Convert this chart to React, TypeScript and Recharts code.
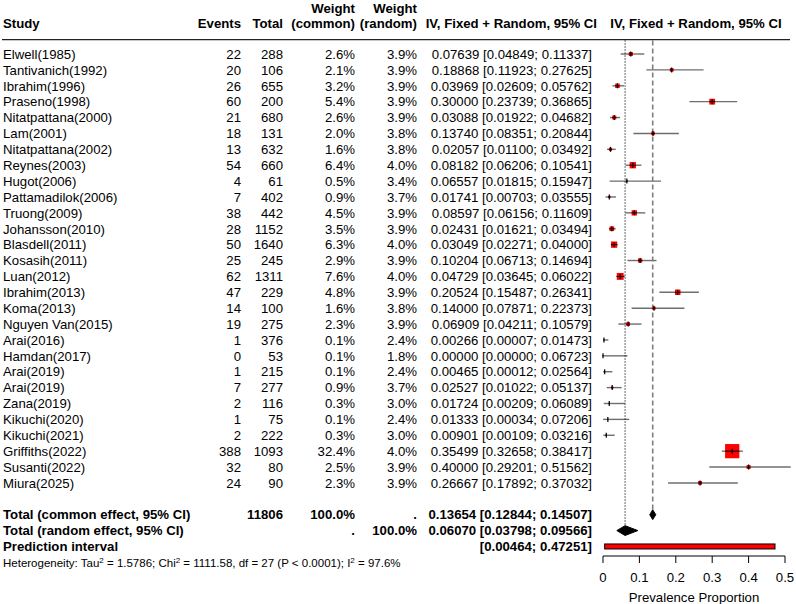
import React from 'react';
import { ScatterChart, Scatter, XAxis, YAxis, ReferenceLine } from 'recharts';

const studies = [
  'Elwell(1985)', 'Tantivanich(1992)', 'Ibrahim(1996)', 'Praseno(1998)', 'Nitatpattana(2000)',
  'Lam(2001)', 'Nitatpattana(2002)', 'Reynes(2003)', 'Hugot(2006)', 'Pattamadilok(2006)',
  'Truong(2009)', 'Johansson(2010)', 'Blasdell(2011)', 'Kosasih(2011)', 'Luan(2012)',
  'Ibrahim(2013)', 'Koma(2013)', 'Nguyen Van(2015)', 'Arai(2016)', 'Hamdan(2017)',
  'Arai(2019)', 'Arai(2019)', 'Zana(2019)', 'Kikuchi(2020)', 'Kikuchi(2021)',
  'Griffiths(2022)', 'Susanti(2022)', 'Miura(2025)',
];
const events = [22, 20, 26, 60, 21, 18, 13, 54, 4, 7, 38, 28, 50, 25, 62, 47, 14, 19, 1, 0, 1, 7, 2, 1, 2, 388, 32, 24];
const totals = [288, 106, 655, 200, 680, 131, 632, 660, 61, 402, 442, 1152, 1640, 245, 1311, 229, 100, 275, 376, 53, 215, 277, 116, 75, 222, 1093, 80, 90];
const weightCommon = [2.6, 2.1, 3.2, 5.4, 2.6, 2.0, 1.6, 6.4, 0.5, 0.9, 4.5, 3.5, 6.3, 2.9, 7.6, 4.8, 1.6, 2.3, 0.1, 0.1, 0.1, 0.9, 0.3, 0.1, 0.3, 32.4, 2.5, 2.3];
const weightRandom = [3.9, 3.9, 3.9, 3.9, 3.9, 3.8, 3.8, 4.0, 3.4, 3.7, 3.9, 3.9, 4.0, 3.9, 4.0, 3.9, 3.8, 3.9, 2.4, 1.8, 2.4, 3.7, 3.0, 2.4, 3.0, 4.0, 3.9, 3.9];
const estimates = [0.07639, 0.18868, 0.03969, 0.3, 0.03088, 0.1374, 0.02057, 0.08182, 0.06557, 0.01741, 0.08597, 0.02431, 0.03049, 0.10204, 0.04729, 0.20524, 0.14, 0.06909, 0.00266, 0, 0.00465, 0.02527, 0.01724, 0.01333, 0.00901, 0.35499, 0.4, 0.26667];
const lowerCI = [0.04849, 0.11923, 0.02609, 0.23739, 0.01922, 0.08351, 0.011, 0.06206, 0.01815, 0.00703, 0.06156, 0.01621, 0.02271, 0.06713, 0.03645, 0.15487, 0.07871, 0.04211, 0.00007, 0, 0.00012, 0.01022, 0.00209, 0.00034, 0.00109, 0.32658, 0.29201, 0.17892];
const upperCI = [0.11337, 0.27625, 0.05762, 0.36865, 0.04682, 0.20844, 0.03492, 0.10541, 0.15947, 0.03555, 0.11609, 0.03494, 0.04, 0.14694, 0.06022, 0.26341, 0.22373, 0.10579, 0.01473, 0.06723, 0.02564, 0.05137, 0.06089, 0.07206, 0.03216, 0.38417, 0.51562, 0.37032];

const commonEst = 0.13654;
const commonCI = [0.12844, 0.14507];
const randomEst = 0.0607;
const randomCI = [0.03798, 0.09566];
const predictionCI = [0.00464, 0.47251];
const xTicks = [0, 0.1, 0.2, 0.3, 0.4, 0.5];

const FONT = '"Liberation Sans", Arial, Helvetica, sans-serif';
const FS = 13.2;
// right edges of the text columns (px)
const COL = { study: 3, events: 241, total: 283, wCommon: 355, wRandom: 417, ci: 592, plotMid: 696 };
// row positions (row units) of the non-study lines
const ROW_HEAD1 = -2.9;
const ROW_HEAD2 = -1.95;
const ROW_RULE = -0.91;
const ROW_COMMON = 29;
const ROW_RANDOM = 30;
const ROW_PRED = 31;
const DIAMOND_H = 0.31;

const fmt = (v: number) => v.toFixed(5);
const ciText = (e: number, lo: number, up: number) => `${fmt(e)} [${fmt(lo)}; ${fmt(up)}]`;

const studyData = studies.map((name, i) => ({
  x: estimates[i],
  y: i,
  name,
  ev: events[i],
  n: totals[i],
  wc: weightCommon[i],
  wr: weightRandom[i],
  lo: lowerCI[i],
  up: upperCI[i],
}));

const labelData = [
  { x: 0, y: ROW_HEAD1, kind: 'head1' },
  { x: 0, y: ROW_HEAD2, kind: 'head2' },
  { x: 0, y: ROW_RULE, kind: 'rule' },
  { x: 0, y: ROW_COMMON, kind: 'common' },
  { x: 0, y: ROW_RANDOM, kind: 'random' },
  { x: 0, y: ROW_PRED, kind: 'pred' },
];

const diamond = (est: number, ci: number[], row: number) => [
  { x: ci[0], y: row },
  { x: est, y: row - DIAMOND_H },
  { x: ci[1], y: row },
  { x: est, y: row + DIAMOND_H },
];
const commonDiamond = diamond(commonEst, commonCI, ROW_COMMON);
const randomDiamond = diamond(randomEst, randomCI, ROW_RANDOM);
const predData = [
  { x: predictionCI[0], y: ROW_PRED },
  { x: predictionCI[1], y: ROW_PRED },
];

function T({ x, y, anchor = 'end', bold = false, size = FS, children }: any) {
  return (
    <text x={x} y={y} dy="0.36em" textAnchor={anchor} fontFamily={FONT} fontSize={size}
      fontWeight={bold ? 700 : 400} fill="#000">
      {children}
    </text>
  );
}

function StudyRow(props: any) {
  const { cx, cy, payload } = props;
  const side = 2.5 * Math.sqrt(payload.wc);
  return (
    <g>
      <T x={COL.study} y={cy} anchor="start">{payload.name}</T>
      <T x={COL.events} y={cy}>{payload.ev}</T>
      <T x={COL.total} y={cy}>{payload.n}</T>
      <T x={COL.wCommon} y={cy}>{payload.wc.toFixed(1)}%</T>
      <T x={COL.wRandom} y={cy}>{payload.wr.toFixed(1)}%</T>
      <T x={COL.ci} y={cy}>{ciText(payload.x, payload.lo, payload.up)}</T>
      <rect x={cx - side / 2} y={cy - side / 2} width={side} height={side} fill="#ff0000" />
      <line x1={cx - side / 2} x2={cx + side / 2} y1={cy} y2={cy} stroke="#000" strokeWidth={1} />
      <line x1={cx} x2={cx} y1={cy - 2.5} y2={cy + 2.5} stroke="#000" strokeWidth={1.2} />
    </g>
  );
}

function LabelRow(props: any) {
  const { cy, payload } = props;
  const n = totals.reduce((s, v) => s + v, 0);
  switch (payload.kind) {
    case 'head1':
      return (
        <g>
          <T x={COL.wCommon} y={cy} bold>Weight</T>
          <T x={COL.wRandom} y={cy} bold>Weight</T>
        </g>
      );
    case 'head2':
      return (
        <g>
          <T x={COL.study} y={cy} anchor="start" bold>Study</T>
          <T x={COL.events} y={cy} bold>Events</T>
          <T x={COL.total} y={cy} bold>Total</T>
          <T x={COL.wCommon} y={cy} bold>(common)</T>
          <T x={COL.wRandom} y={cy} bold>(random)</T>
          <T x={597} y={cy} bold>IV, Fixed + Random, 95% CI</T>
          <T x={COL.plotMid} y={cy} anchor="middle" bold>IV, Fixed + Random, 95% CI</T>
        </g>
      );
    case 'rule':
      return <line x1={2} x2={790} y1={cy} y2={cy} stroke="#222" strokeWidth={1.3} />;
    case 'common':
      return (
        <g>
          <T x={COL.study} y={cy} anchor="start" bold>Total (common effect, 95% CI)</T>
          <T x={COL.total} y={cy} bold>{n}</T>
          <T x={COL.wCommon} y={cy} bold>100.0%</T>
          <T x={COL.wRandom} y={cy} bold>.</T>
          <T x={COL.ci} y={cy} bold>{ciText(commonEst, commonCI[0], commonCI[1])}</T>
        </g>
      );
    case 'random':
      return (
        <g>
          <T x={COL.study} y={cy} anchor="start" bold>Total (random effect, 95% CI)</T>
          <T x={COL.wCommon} y={cy} bold>.</T>
          <T x={COL.wRandom} y={cy} bold>100.0%</T>
          <T x={COL.ci} y={cy} bold>{ciText(randomEst, randomCI[0], randomCI[1])}</T>
        </g>
      );
    case 'pred':
      return (
        <g>
          <T x={COL.study} y={cy} anchor="start" bold>Prediction interval</T>
          <T x={COL.ci} y={cy} bold>[{fmt(predictionCI[0])}; {fmt(predictionCI[1])}]</T>
          <text x={3} y={cy + 16.5} dy="0.36em" fontFamily={FONT} fontSize={11.5} fill="#000">
            Heterogeneity: Tau<tspan dy="-4" fontSize={8}>2</tspan>
            <tspan dy="4"> = 1.5786; Chi</tspan><tspan dy="-4" fontSize={8}>2</tspan>
            <tspan dy="4"> = 1111.58, df = 27 (P &lt; 0.0001); I</tspan><tspan dy="-4" fontSize={8}>2</tspan>
            <tspan dy="4"> = 97.6%</tspan>
          </text>
        </g>
      );
    default:
      return <g />;
  }
}

const diamondLine = (p: any) => {
  const d = p.points.map((q: any, i: number) => `${i ? 'L' : 'M'}${q.x},${q.y}`).join('') + 'Z';
  return <path d={d} fill="#000" stroke="#000" strokeWidth={1} />;
};

const predLine = (p: any) => {
  const [a, b] = p.points;
  return <rect x={a.x} y={a.y - 2.5} width={b.x - a.x} height={5} fill="#ff0000" stroke="#000" strokeWidth={1} />;
};

const empty = () => <g />;

export default function App() {
  return (
    <div style={{ position: 'absolute', left: 0, top: 0, width: 796, height: 604, background: '#fff' }}>
      <ScatterChart width={796} height={604} margin={{ top: 0, right: 11, bottom: 0, left: 603 }}>
        <XAxis
          type="number"
          dataKey="x"
          domain={[0, 0.5]}
          ticks={xTicks}
          interval={0}
          height={48}
          tickSize={7}
          tickMargin={10}
          axisLine={{ stroke: '#000' }}
          tickLine={{ stroke: '#000' }}
          tick={{ fill: '#000', fontSize: FS, fontFamily: FONT }}
          label={{ value: 'Prevalence Proportion', position: 'insideBottom', offset: 2, fill: '#000', fontSize: FS, fontFamily: FONT }}
        />
        <YAxis type="number" dataKey="y" domain={[-3.4, 31.6]} reversed hide />

        {studyData.map((s) => (
          <ReferenceLine
            key={`ci-${s.y}`}
            segment={[{ x: s.lo, y: s.y }, { x: s.up, y: s.y }]}
            ifOverflow="visible"
            stroke="#6e6e6e"
            strokeWidth={1.4}
          />
        ))}
        <ReferenceLine
          segment={[{ x: randomEst, y: -0.85 }, { x: randomEst, y: 29.69 }]}
          stroke="#000"
          strokeDasharray="1 2"
          strokeWidth={1.2}
        />
        <ReferenceLine
          segment={[{ x: commonEst, y: -0.85 }, { x: commonEst, y: 28.68 }]}
          stroke="#7f7f7f"
          strokeDasharray="5 3"
          strokeWidth={1.6}
        />

        <Scatter data={studyData} shape={StudyRow} isAnimationActive={false} />
        <Scatter data={labelData} shape={LabelRow} isAnimationActive={false} />
        <Scatter data={commonDiamond} shape={empty} line={diamondLine} isAnimationActive={false} />
        <Scatter data={randomDiamond} shape={empty} line={diamondLine} isAnimationActive={false} />
        <Scatter data={predData} shape={empty} line={predLine} isAnimationActive={false} />
      </ScatterChart>
    </div>
  );
}
